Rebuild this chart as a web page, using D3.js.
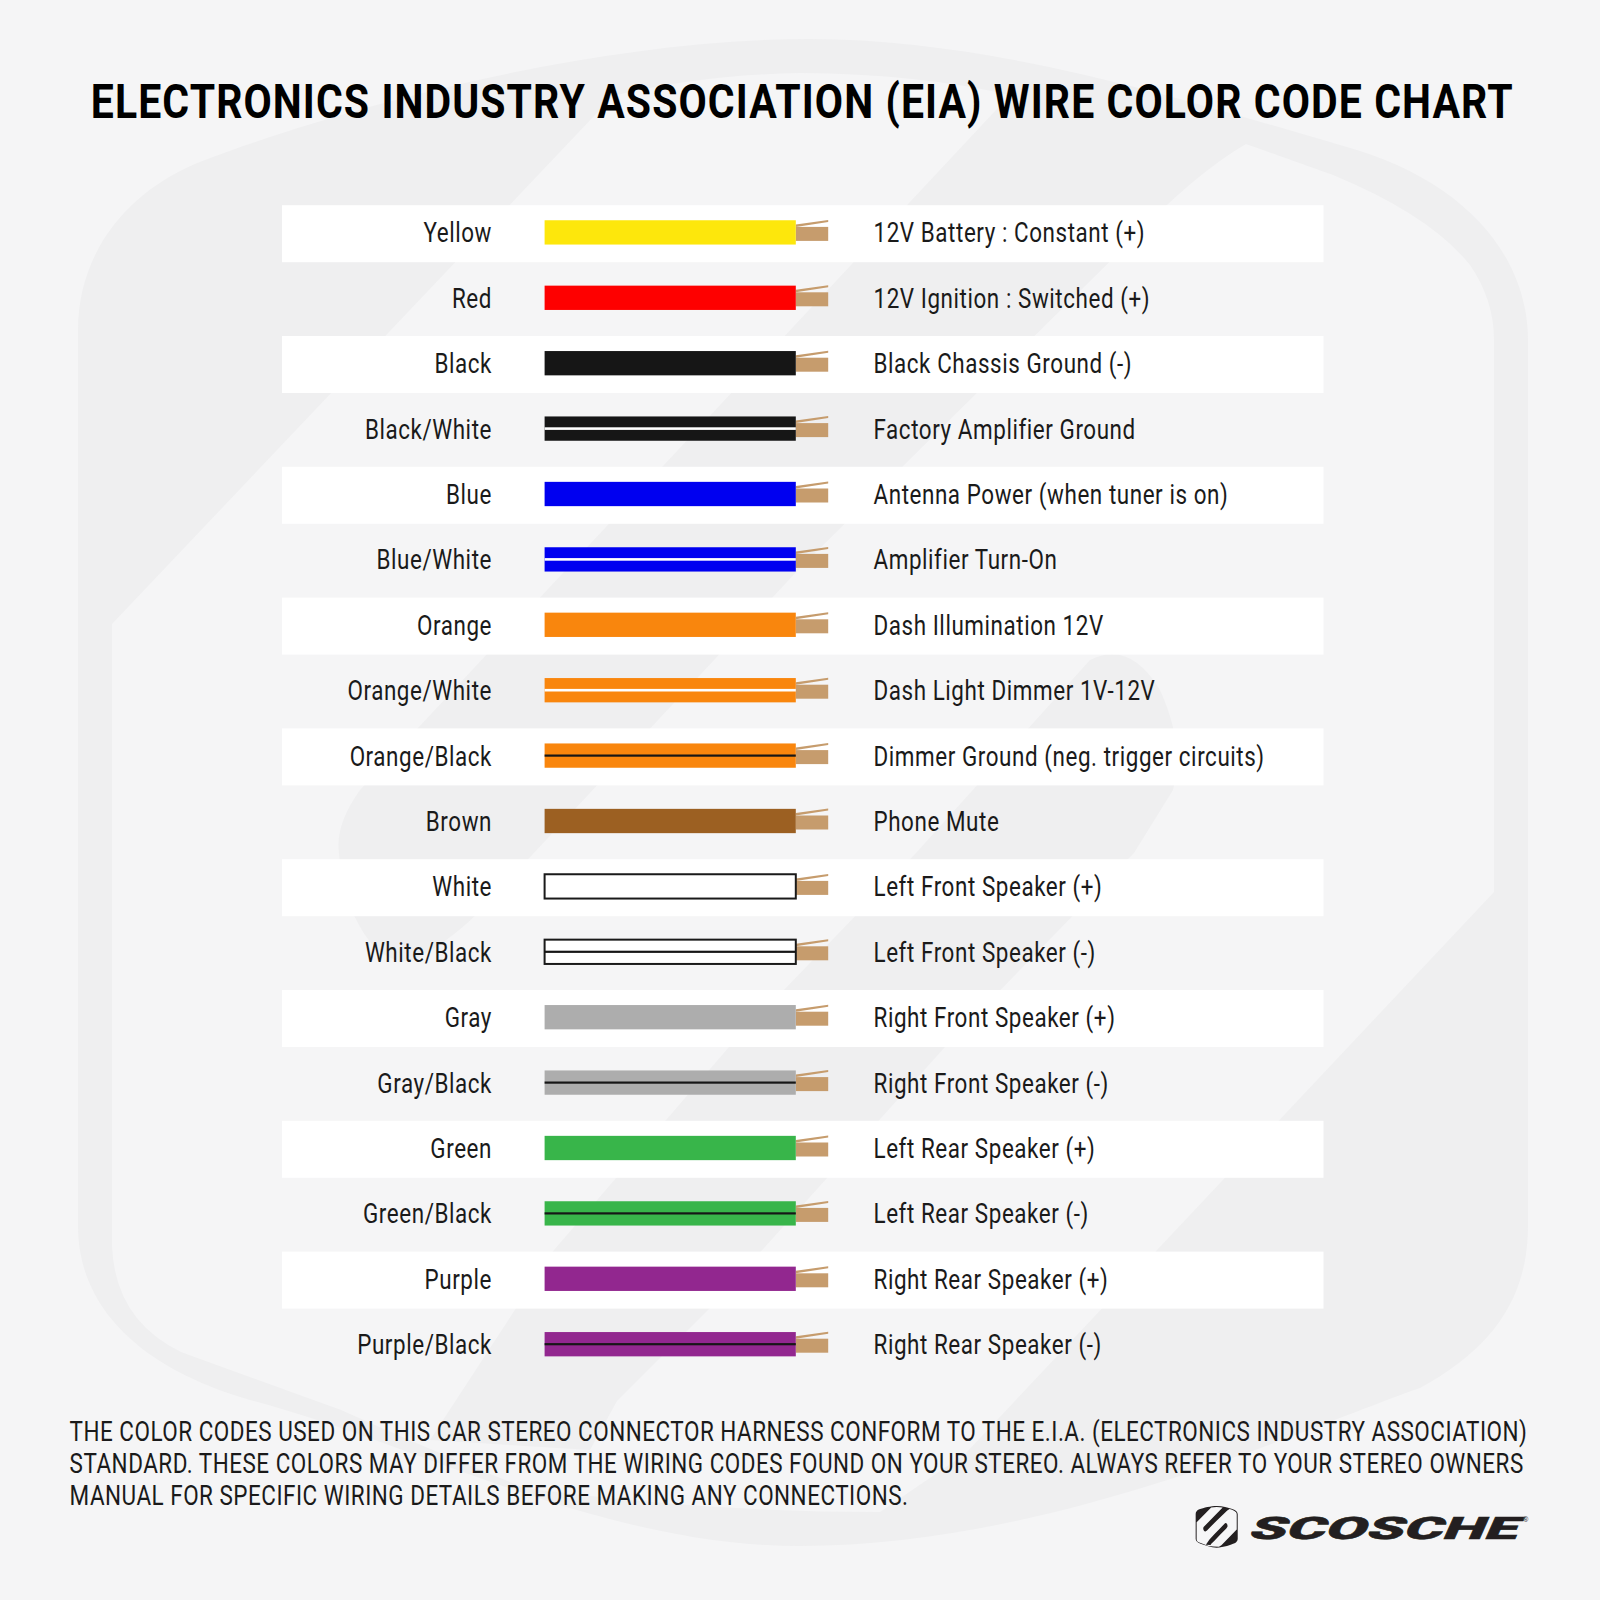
<!DOCTYPE html>
<html><head><meta charset="utf-8">
<style>html,body{margin:0;padding:0;background:#f5f5f6}svg{display:block}text{font-family:Roboto,sans-serif}</style>
<script src="https://cdn.jsdelivr.net/npm/d3@7"></script></head>
<body><svg id="c" width="1600" height="1600"></svg>
<script>
const wireNames=["Yellow","Red","Black","Black/White","Blue","Blue/White","Orange","Orange/White","Orange/Black","Brown","White","White/Black","Gray","Gray/Black","Green","Green/Black","Purple","Purple/Black"];
const wireFunctions=["12V Battery : Constant (+)","12V Ignition : Switched (+)","Black Chassis Ground (-)","Factory Amplifier Ground","Antenna Power (when tuner is on)","Amplifier Turn-On","Dash Illumination 12V","Dash Light Dimmer 1V-12V","Dimmer Ground (neg. trigger circuits)","Phone Mute","Left Front Speaker (+)","Left Front Speaker (-)","Right Front Speaker (+)","Right Front Speaker (-)","Left Rear Speaker (+)","Left Rear Speaker (-)","Right Rear Speaker (+)","Right Rear Speaker (-)"];
const baseColorNames=["Yellow","Red","Black","Blue","Orange","Brown","White","Gray","Green","Purple"];
const baseColors=["#fde70c","#fe0000","#161616","#0000f0","#f9860d","#9c6022","#ffffff","#adadad","#38b54a","#92278f"];
const titleText="ELECTRONICS INDUSTRY ASSOCIATION (EIA) WIRE COLOR CODE CHART";
const noteLines=["THE COLOR CODES USED ON THIS CAR STEREO CONNECTOR HARNESS CONFORM TO THE E.I.A. (ELECTRONICS INDUSTRY ASSOCIATION)","STANDARD. THESE COLORS MAY DIFFER FROM THE WIRING CODES FOUND ON YOUR STEREO. ALWAYS REFER TO YOUR STEREO OWNERS","MANUAL FOR SPECIFIC WIRING DETAILS BEFORE MAKING ANY CONNECTIONS."];

const BG="#f5f5f6";
const svg=d3.select("#c");
svg.append("rect").attr("width",1600).attr("height",1600).attr("fill",BG);

// Brand mark: the same shield is used as the large watermark and the small logo
const outerPath="M78 1226 L78 330 C78 255 125 190 205 160 C350 105 600 39 810 39 C1000 39 1200 105 1340 145 C1470 180 1528 260 1528 340 L1528 1226 C1528 1300 1490 1350 1420 1388 C1300 1430 1050 1546 800 1546 C600 1546 420 1445 250 1400 C130 1365 78 1300 78 1226 Z";
const innerPath="M112 624 L613 96 Q700 75 800 73 Q920 74 1010 95 L360 790 Q335 825 339 853 Q342 900 365 935 Q385 965 412 960 Q445 945 477 914 L800 568 L1168 204 Q1210 165 1246 144 L1333 175 Q1430 215 1470 265 Q1494 300 1494 340 L1494 892 L965 1454 L880 1512 Q700 1512 525 1488 Q430 1450 341 1410 L181 1352 Q115 1320 112 1246 Z";
const barPath="M1090 660 Q1130 640 1160 690 Q1185 745 1173 790 L1134 853 L945 1047 L709 1309 L617 1401 L590 1450 L430 1440 L554 1250 L729 1047 L916 853 Z";
function drawMark(parent,dark,light){
  parent.append("path").attr("d",outerPath).attr("fill",dark);
  parent.append("path").attr("d",innerPath).attr("fill",light);
  parent.append("path").attr("d",barPath).attr("fill",dark);
}
drawMark(svg.append("g"),"#efeff0",BG);

const y=d3.scaleBand().domain(wireNames).range([199.7,1376.9]);
const xWire=d3.scaleLinear().domain([0,1]).range([544.6,795.8]);
const color=d3.scaleOrdinal().domain(baseColorNames).range(baseColors);
const cy=d=>y(d)+y.bandwidth()/2;
const wireH=24.3;
const rows=svg.append("g").selectAll("g").data(wireNames).join("g");
rows.filter((d,i)=>i%2==0).append("rect").attr("x",282).attr("y",d=>cy(d)-27.2).attr("width",1041.5).attr("height",57).attr("fill","#fff");
const stripeW=n=>n.endsWith("/White")?2.6:2.2;
const lblS=.815,lblLs=.7;
rows.append("text").attr("x",0).attr("y",0).attr("text-anchor","end").attr("font-size",27.5).attr("letter-spacing",lblLs).attr("fill","#1a1a1a").text(d=>d)
 .attr("transform",d=>`translate(492,${cy(d)+10}) scale(${lblS},1)`);
rows.append("text").attr("x",0).attr("y",0).attr("font-size",27.5).attr("letter-spacing",lblLs).attr("fill","#1a1a1a").text((d,i)=>wireFunctions[i])
 .attr("transform",d=>`translate(873.5,${cy(d)+10}) scale(${lblS},1)`);
// copper strands
rows.append("rect").attr("x",xWire(1)).attr("y",d=>cy(d)-5.5).attr("width",32.4).attr("height",14).attr("fill","#c69c6d");
rows.append("path").attr("d",d=>{const c=cy(d),a=xWire(1),b=a+32.4;return `M${a} ${c-8} L${b} ${c-12.5} L${b} ${c-10.5} L${a} ${c-5.5}Z`;}).attr("fill","#c69c6d");
// wire body
rows.append("rect").attr("x",xWire(0)).attr("y",d=>cy(d)-wireH/2).attr("width",xWire(1)-xWire(0)).attr("height",wireH)
 .attr("fill",d=>color(d.split("/")[0]))
 .attr("stroke",d=>d.split("/")[0]=="White"?"#1a1a1a":"none").attr("stroke-width",2);
rows.filter(d=>d.includes("/")).append("rect").attr("x",xWire(0)).attr("y",d=>cy(d)-stripeW(d)/2).attr("width",xWire(1)-xWire(0)).attr("height",stripeW)
 .attr("fill",d=>color(d.split("/")[1]));

// text fitted to a target width by horizontal scaling
function fit(sel,x,base,w){
  const n=sel.node(),s=w/n.getComputedTextLength();
  sel.attr("x",0).attr("y",0).attr("transform",`translate(${x},${base}) scale(${s},1)`);
}
fit(svg.append("text").attr("font-size",49).attr("font-weight",700).attr("letter-spacing",1.3).attr("fill","#000").text(titleText),90.8,118.3,1423.5);
const noteW=[1458,1454,839];
noteLines.forEach((t,i)=>fit(svg.append("text").attr("font-size",27.3).attr("letter-spacing",.6).attr("fill","#1a1a1a").text(t),69.6,1440.5+i*32,noteW[i]));

// logo
drawMark(svg.append("g").attr("transform","translate(1193.4,1504.9) scale(.029,.0277)"),"#231f20","#f6f6f7");
const sx=svg.append("text").attr("font-size",31).attr("font-weight",900).attr("fill","#231f20").attr("stroke","#231f20").attr("stroke-width",.5).text("SCOSCHE");
const sw=sx.node().getComputedTextLength();
sx.attr("transform",`translate(1247,1539) skewX(-24) scale(${269/sw},1)`);
svg.append("text").attr("x",1523).attr("y",1522).attr("font-size",7).attr("fill","#555").text("®");
</script></body></html>
